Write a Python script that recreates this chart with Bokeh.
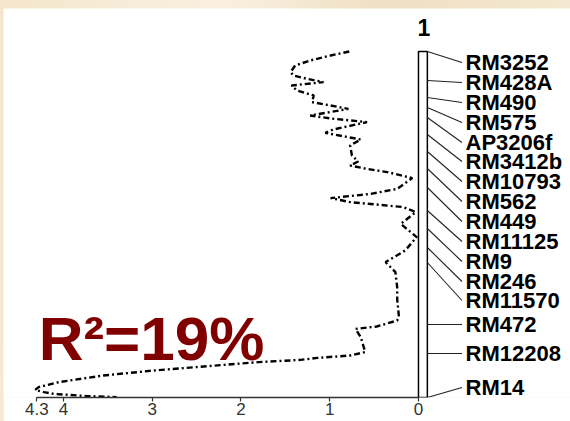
from bokeh.plotting import figure
from bokeh.models import Range1d, FixedTicker, CustomJSTickFormatter
from bokeh.layouts import column
from bokeh.core.properties import value
from bokeh.embed import file_html
from bokeh.resources import INLINE

# LOD profile along chromosome 1: map position (cM) and LOD score
profile_pos = [0, 2, 4.5, 7, 10.3, 12, 13.7, 15.3, 17, 19.5, 22, 25.3, 27, 28.7,
               32, 33.5, 35.3, 39, 40.7, 44, 47, 52, 55, 57, 58.7, 60.3, 63.3,
               68.7, 71.2, 73.3, 75.3, 76.7, 77.8, 80.3, 86.2, 92.8, 99.5, 105.3,
               110.3, 117.8, 123.7, 132.8, 134.5, 137.5, 138.7, 142.8, 150.3, 152,
               153.2, 154.2, 155.3, 159.5, 162, 165.3, 167.8, 169.2, 170.3, 171.2,
               172.3, 172.8]
profile_lod = [0.78, 0.99, 1.22, 1.39, 1.44, 1.41, 1.25, 1.07, 1.43, 1.37, 1.18, 1.20,
               0.99, 0.79, 1.22, 0.99, 0.58, 0.96, 1.05, 0.65, 0.77, 0.75, 0.68, 0.77,
               0.58, 0.35, 0.07, 0.24, 0.54, 0.99, 0.77, 0.43, 0.17, 0.03, 0.20, 0.02,
               0.15, 0.37, 0.26, 0.24, 0.24, 0.22, 0.24, 0.47, 0.71, 0.65, 0.60, 0.77,
               1.14, 1.33, 1.80, 2.98, 3.55, 4.05, 4.28, 4.32, 4.22, 4.11, 3.73, 3.40]

# Linkage map of chromosome 1
chrom_name = "1"
chrom_length = 173.0
markers = ["RM3252", "RM428A", "RM490", "RM575", "AP3206f", "RM3412b", "RM10793",
           "RM562", "RM449", "RM11125", "RM9", "RM246", "RM11570", "RM472",
           "RM12208", "RM14"]
marker_pos = [0, 14.5, 23, 28, 33, 41.5, 50, 58.5, 68, 79.5, 88.5, 98, 105.5,
              136.5, 151, 173]
label_pos = [5.5, 15.5, 25.5, 35.5, 45.5, 55, 65, 75, 85, 95, 105, 115, 124.5,
             136.5, 151, 168]

axis_ticks = [0, 1, 2, 3, 4, 4.3]
r2_text = "R\u00b2=19%"

p = figure(width=567, height=413,
           x_range=Range1d(4.676, -1.713), y_range=Range1d(chrom_length, -21.5),
           output_backend="svg", toolbar_location=None, y_axis_location=None,
           min_border=0, min_border_bottom=24)
p.margin = (8, 0, 0, 3)
p.background_fill_color = "white"
p.border_fill_color = "white"
p.outline_line_color = None
p.xgrid.visible = False
p.ygrid.visible = False

# LOD curve
p.line(profile_lod, profile_pos, line_color="black", line_width=2.4,
       line_dash="6 3 2 3")

# Chromosome bar with marker connectors and names
bar_w = 0.1
p.quad(left=[0], right=[-bar_w], top=[0], bottom=[chrom_length],
       fill_color="white", line_color="black", line_width=1.5)
p.segment(x0=[-bar_w] * len(markers), y0=marker_pos,
          x1=[-0.49] * len(markers), y1=label_pos,
          line_color="#222222", line_width=1.1)
p.text(x=[-0.53] * len(markers), y=label_pos, text=markers,
       text_font=value("Liberation Sans"), text_font_style="bold",
       text_font_size="22px", text_baseline="middle", text_align="left",
       text_color="black")
p.text(x=[-0.06], y=[-12], text=[chrom_name],
       text_font=value("Liberation Sans"), text_font_style="bold",
       text_font_size="23px", text_baseline="middle", text_align="center",
       text_color="black")

# Explained variance
p.text(x=[4.28], y=[143.5], text=[r2_text],
       text_font=value("Liberation Sans"), text_font_style="bold",
       text_font_size="62px", text_baseline="middle", text_align="left",
       text_color="#800000")

# LOD axis
ax = p.xaxis[0]
ax.ticker = FixedTicker(ticks=axis_ticks)
ax.bounds = (0, 4.3)
ax.formatter = CustomJSTickFormatter(code="return (Math.abs(tick % 1) > 1e-9) ? tick.toFixed(1) : tick.toFixed(0);")
ax.major_tick_in = 0
ax.major_tick_out = 4
ax.minor_tick_line_color = None
ax.axis_line_color = "#333333"
ax.axis_line_width = 1.5
ax.major_tick_line_color = "#333333"
ax.major_tick_line_width = 1.2
ax.major_label_text_font = "Liberation Sans"
ax.major_label_text_font_size = "17px"
ax.major_label_text_color = "#333333"
ax.major_label_standoff = 1

page = column(p, width=570, height=421,
              styles={"background": "linear-gradient(100deg, #f4e6cc 0%, #f9f0e0 35%, #efdfc3 60%, #f7ecd8 100%)"})

open("out.html", "w").write(file_html(page, INLINE))
